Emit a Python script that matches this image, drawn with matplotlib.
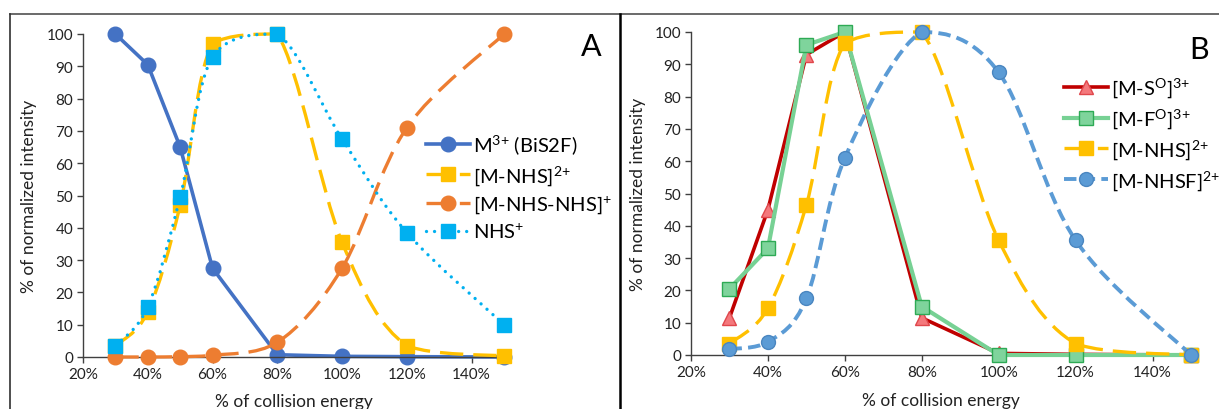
import numpy as np
import matplotlib
matplotlib.use("Agg")
import matplotlib.pyplot as plt
from matplotlib.path import Path
from matplotlib.patches import PathPatch
from matplotlib.lines import Line2D

plt.rcParams['font.family'] = ['Lato', 'Noto Sans', 'DejaVu Sans']
plt.rcParams['mathtext.fontset'] = 'custom'
plt.rcParams['mathtext.rm'] = 'Lato'
plt.rcParams['mathtext.it'] = 'Lato'
plt.rcParams['mathtext.default'] = 'regular'

# ---------------- data ----------------
energy = [30, 40, 50, 60, 80, 100, 120, 150]
xticks = [20, 40, 60, 80, 100, 120, 140]
xtick_labels = ["20%", "40%", "60%", "80%", "100%", "120%", "140%"]
yticks = [0, 10, 20, 30, 40, 50, 60, 70, 80, 90, 100]

# Panel A
a_m3 = [100, 90.5, 65, 27.5, 0.7, 0.2, 0.1, 0.0]
a_mnhs = [3.5, 14, 47, 97, 100, 35.5, 3.5, 0.3]
a_mnhsnhs = [0.0, 0.0, 0.1, 0.5, 4.5, 27.5, 71, 100]
a_nhs = [3.5, 15.5, 49.5, 93, 100, 67.5, 38.5, 10]
a_labels = [r"M$^{3{+}}$ (BiS2F)", r"[M-NHS]$^{2{+}}$", r"[M-NHS-NHS]$^{{+}}$", r"NHS$^{{+}}$"]

# Panel B
b_ms = [11.5, 45, 93, 100, 11.5, 0.5, 0.2, 0.0]
b_mf = [20.5, 33, 96, 100, 15, 0.0, 0.0, 0.0]
b_mnhs = [3.5, 14.5, 46.5, 96.5, 100, 35.5, 3.5, 0.0]
b_mnhsf = [1.8, 4, 17.5, 61, 100, 87.5, 35.5, 0.0]
b_labels = [r"[M-S$^{O}$]$^{3{+}}$", r"[M-F$^{O}$]$^{3{+}}$", r"[M-NHS]$^{2{+}}$", r"[M-NHSF]$^{2{+}}$"]

W, H = 1219, 410
fig = plt.figure(figsize=(W / 100, H / 100), dpi=100)

def fx(px):
    return px / W

def fy(py):
    return 1 - py / H

def smooth_path(x, y, t=1.0 / 6):
    P = np.column_stack([x, y]).astype(float)
    n = len(P)
    verts = [P[0]]
    codes = [Path.MOVETO]
    for i in range(n - 1):
        p0 = P[i - 1] if i > 0 else P[i]
        p3 = P[i + 2] if i + 2 < n else P[i + 1]
        c1 = P[i] + (P[i + 1] - p0) * t
        c2 = P[i + 1] - (p3 - P[i]) * t
        lo, hi = min(P[i, 1], P[i + 1, 1]), max(P[i, 1], P[i + 1, 1])
        c1[1] = np.clip(c1[1], lo, hi)
        c2[1] = np.clip(c2[1], lo, hi)
        verts += [c1, c2, P[i + 1]]
        codes += [Path.CURVE4] * 3
    return Path(verts, codes)

def draw_series(ax, x, y, color, lw, ls, marker, ms, mfc, mec, smooth, cap='butt', mew=1.0, z=2):
    if smooth:
        patch = PathPatch(smooth_path(x, y), facecolor='none', edgecolor=color,
                          linewidth=lw, linestyle=ls, capstyle=cap, joinstyle='round',
                          zorder=z, clip_on=False)
        ax.add_patch(patch)
        ax.plot(x, y, linestyle='none', marker=marker, ms=ms, mfc=mfc, mec=mec,
                mew=mew, zorder=z + 0.1, clip_on=False)
    else:
        ax.plot(x, y, color=color, lw=lw, linestyle=ls, marker=marker, ms=ms,
                mfc=mfc, mec=mec, mew=mew, zorder=z, clip_on=False,
                dash_capstyle=cap, solid_joinstyle='round')
    return Line2D([], [], color=color, lw=lw, linestyle=ls, marker=marker, ms=ms,
                  mfc=mfc, mec=mec, mew=mew, dash_capstyle=cap)

def style_axes(ax):
    ax.set_xlim(20, 150)
    ax.set_ylim(0, 100)
    ax.set_xticks(xticks)
    ax.set_xticklabels(xtick_labels)
    ax.set_yticks(yticks)
    for s in ['top', 'right']:
        ax.spines[s].set_visible(False)
    for s in ['left', 'bottom']:
        ax.spines[s].set_color('#404040')
        ax.spines[s].set_linewidth(1.0)
    ax.tick_params(axis='both', direction='out', length=4, width=1.0,
                   color='#404040', labelsize=11, labelcolor='#222222', pad=3)
    ax.set_xlabel("% of collision energy", fontsize=12.5, color='#222222')
    ax.set_ylabel("% of normalized intensity", fontsize=12.5, color='#222222')
    ax.patch.set_alpha(0)

# ---------------- Panel A ----------------
axA = fig.add_axes([fx(83), fy(358), fx(504 - 83), (358 - 35) / H])
style_axes(axA)
axA.xaxis.set_label_coords(0.5, -0.11)
axA.yaxis.set_label_coords(-0.11, 0.5)

hA = []
hA.append(draw_series(axA, energy, a_m3, '#4472C4', 2.6, '-', 'o', 10.5,
                      '#4472C4', '#4472C4', False, z=2))
hA.append(draw_series(axA, energy, a_mnhs, '#FFC000', 2.4, (0, (7, 3)), 's', 10,
                      '#FFC000', '#FFC000', True, z=3))
hA.append(draw_series(axA, energy, a_mnhsnhs, '#ED7D31', 2.4, (0, (7, 3)), 'o', 10.5,
                      '#ED7D31', '#ED7D31', True, z=4))
hA.append(draw_series(axA, energy, a_nhs, '#00B0F0', 2.4, (0, (0.01, 2.4)), 's', 10,
                      '#00B0F0', '#00B0F0', True, cap='round', z=5))
axA.legend(hA, a_labels, loc='upper left', bbox_to_anchor=(0.815, 0.695),
           frameon=False, fontsize=14.5, handlelength=2.2, handletextpad=0.15,
           labelspacing=0.32, borderpad=0, borderaxespad=0)

# ---------------- Panel B ----------------
axB = fig.add_axes([fx(691), fy(356), fx(1191 - 691), (356 - 33) / H])
style_axes(axB)
axB.xaxis.set_label_coords(0.5, -0.115)
axB.yaxis.set_label_coords(-0.09, 0.5)

hB = []
hB.append(draw_series(axB, energy, b_ms, '#C00000', 2.6, '-', '^', 9.5,
                      '#F4787C', '#E0474C', False, z=2))
hB.append(draw_series(axB, energy, b_mf, '#77D194', 3.0, '-', 's', 9.5,
                      '#7FD49C', '#2EAA55', False, z=3))
hB.append(draw_series(axB, energy, b_mnhs, '#FFC000', 2.4, (0, (7, 3)), 's', 10,
                      '#FFC000', '#FFC000', True, z=4))
hB.append(draw_series(axB, energy, b_mnhsf, '#5B9BD5', 2.8, (0, (3.2, 1.6)), 'o', 10,
                      '#5B9BD5', '#4A86C0', True, z=5))
axB.legend(hB, b_labels, loc='upper left', bbox_to_anchor=(0.745, 0.865),
           frameon=False, fontsize=14.5, handlelength=2.2, handletextpad=0.15,
           labelspacing=0.35, borderpad=0, borderaxespad=0)

# ---------------- panel letters & frames ----------------
fig.text(fx(591), fy(47), "A", fontsize=22, ha='center', va='center', color='black')
fig.text(fx(1199), fy(50), "B", fontsize=22, ha='center', va='center', color='black')

fig.add_artist(Line2D([fx(10), 1.0], [fy(15), fy(15)], color='#505050', lw=1.2,
                      transform=fig.transFigure))
fig.add_artist(Line2D([fx(10), fx(10)], [fy(15), 0.0], color='#303030', lw=1.2,
                      transform=fig.transFigure))
fig.add_artist(Line2D([fx(620), fx(620)], [fy(15), 0.0], color='black', lw=1.8,
                      transform=fig.transFigure))

fig.savefig("out.png", dpi=100)
